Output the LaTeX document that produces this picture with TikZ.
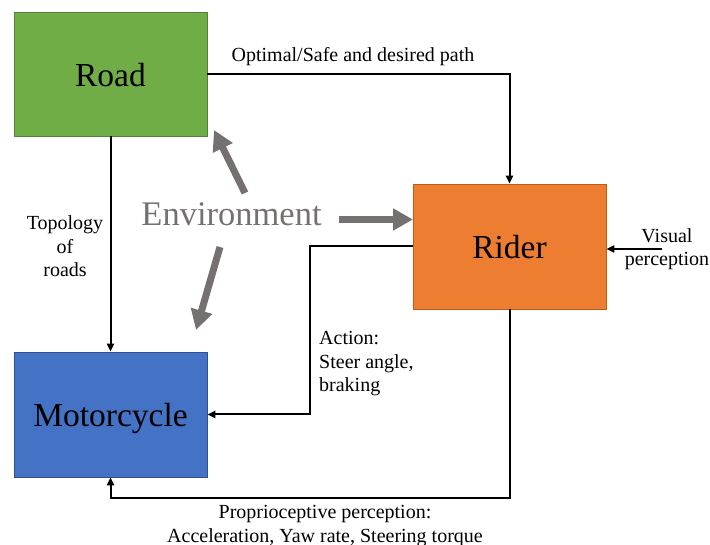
\documentclass[tikz,border=0pt]{standalone}
\usepackage{fontspec}
\setmainfont{Liberation Serif}
\usetikzlibrary{arrows.meta}
\definecolor{roadgreen}{HTML}{70AD47}
\definecolor{roadedge}{HTML}{548235}
\definecolor{riderorange}{HTML}{ED7D31}
\definecolor{rideredge}{HTML}{C55A11}
\definecolor{motoblue}{HTML}{4472C4}
\definecolor{motoedge}{HTML}{2F528F}
\definecolor{envgray}{HTML}{767171}
\tikzset{
  block/.style={rectangle, minimum width=193pt, minimum height=124pt, inner sep=0pt,
    line width=0.8pt, text height=25pt, text depth=0pt,
    font=\fontsize{33.5}{40}\selectfont},
  label/.style={font=\fontsize{20}{23.3}\selectfont, inner sep=0pt, anchor=base},
  flow/.style={line width=2pt, -{Triangle[length=8pt,width=7pt]}},
  envflow/.style={draw=envgray, line width=7pt, -{Triangle[length=20pt,width=21pt]}}
}
\begin{document}
\begin{tikzpicture}[x=1pt,y=-1pt]
\useasboundingbox (0,0) rectangle (710,545);

% the three blocks
\node[block, fill=roadgreen, draw=roadedge] (road) at (110.5,74) {Road};
\node[block, fill=riderorange, draw=rideredge, minimum height=125pt] (rider) at (509.5,246.5) {Rider};
\node[block, fill=motoblue, draw=motoedge, minimum height=125pt] (moto) at (110.5,414.5) {Motorcycle};

% environment and its influence arrows
\node[font=\fontsize{34.5}{40}\selectfont, text=envgray, inner sep=0pt, anchor=base] (env) at (231.5,226) {Environment};
\coordinate (envA) at (245,193);
\coordinate (envAtip) at (214,130);
\coordinate (envB) at (339,219.5);
\coordinate (envBtip) at (413,219.5);
\coordinate (envC) at (220,247);
\coordinate (envCtip) at (196,330);
\draw[envflow] (envA) -- (envAtip);
\draw[envflow] (envB) -- (envBtip);
\draw[envflow] (envC) -- (envCtip);

% signal connections
\coordinate (bend) at (310,300);
\coordinate (low) at (300,498);
\coordinate (vis) at (662,249);
\draw[flow] (road.east) -| (rider.north);
\draw[flow] (road.south) -- (moto.north);
\draw[flow] (rider.west) -- (rider.west -| bend) |- (moto.east);
\draw[flow] (rider.south) |- (low) -| (moto.south);
\draw[flow] (vis) -- (rider.east |- vis);

% signal labels (multi-line labels are placed by their last baseline)
\node[label] (lpath) at (353,61.7) {Optimal/Safe and desired path};
\node[label, align=center] (ltopo) at (65,276.5) {Topology\\of\\roads};
\node[label, align=center] (lvis) at (667,265.5) {Visual\\perception};
\node[label, align=left, anchor=base west] (lact) at (319,391.5) {Action:\\Steer angle,\\braking};
\node[label, align=center] (lprop) at (325,542) {Proprioceptive perception:\\Acceleration, Yaw rate, Steering torque};
\end{tikzpicture}
\end{document}
